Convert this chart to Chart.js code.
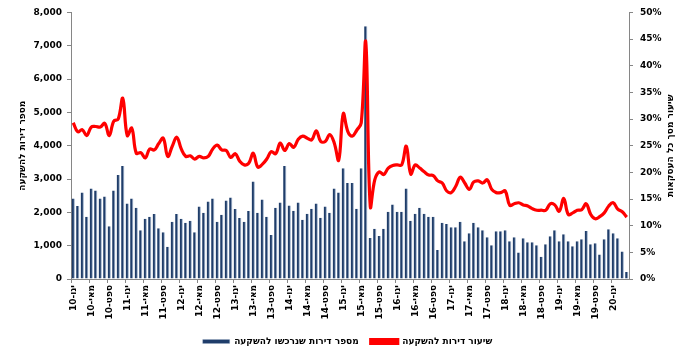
<!DOCTYPE html>
<html>
<head>
<meta charset="utf-8">
<script src="https://cdn.jsdelivr.net/npm/chart.js@4.4.1/dist/chart.umd.min.js"></script>
<style>
  html, body { margin: 0; padding: 0; background: #fff; }
</style>
</head>
<body>
<canvas id="chart" width="695" height="360"></canvas>
<script>
// month names and years for the category axis (Jan 2010 - Apr 2020)
const monthNames = ["ינו", "פבר", "מרץ", "אפר", "מאי", "יונ", "יול", "אוג", "ספט", "אוק", "נוב", "דצמ"];
const firstYear = 10;
const monthCount = 124;

// number of apartments bought for investment (left axis)
const investCount = [
  2414, 2192, 2596, 1869, 2717, 2656, 2414, 2475, 1586, 2656, 3121, 3394,
  2262, 2414, 2141, 1464, 1808, 1869, 1949, 1525, 1404, 970, 1717, 1949,
  1808, 1687, 1747, 1404, 2172, 1990, 2323, 2414, 1717, 1929, 2353, 2444,
  2101, 1828, 1717, 2040, 2929, 1990, 2384, 1869, 1323, 2141, 2293, 3394,
  2202, 2050, 2293, 1778, 1959, 2111, 2262, 1838, 2172, 1990, 2717, 2596,
  3323, 2879, 2879, 2111, 3323, 7585, 1232, 1505, 1293, 1505, 2020, 2232,
  2020, 2020, 2717, 1747, 1959, 2141, 1959, 1869, 1869, 869, 1687, 1650,
  1555, 1555, 1717, 1131, 1374, 1687, 1555, 1464, 1252, 1010, 1434, 1434,
  1464, 1131, 1252, 798, 1222, 1101, 1101, 1010, 667, 1040, 1283, 1464,
  1131, 1343, 1131, 980, 1131, 1192, 1444, 1040, 1071, 737, 1192, 1495,
  1374, 1222, 828, 212
];

// share of investment apartments, % (right axis)
const investShare = [
  29.3, 27.6, 28.0, 26.9, 28.5, 28.6, 28.5, 29.2, 26.9, 29.6, 30.0, 33.9,
  26.9, 28.3, 23.6, 23.7, 22.7, 24.4, 24.2, 25.4, 26.4, 23.0, 24.9, 26.6,
  24.4, 23.0, 23.1, 22.5, 23.0, 22.7, 23.0, 24.4, 25.1, 24.2, 24.1, 22.8,
  23.5, 22.1, 21.4, 21.7, 23.6, 21.0, 21.5, 22.5, 23.9, 23.5, 25.5, 24.1,
  25.4, 24.7, 26.2, 26.8, 26.4, 26.1, 27.8, 25.8, 25.8, 27.1, 25.5, 22.3,
  31.0, 27.7, 26.8, 27.9, 29.3, 44.4, 13.6, 18.6, 20.1, 19.6, 20.8, 21.3,
  21.4, 21.4, 24.9, 19.7, 21.4, 20.8, 20.1, 19.5, 19.4, 18.4, 18.0, 16.5,
  16.2, 17.4, 19.1, 18.0, 16.8, 18.2, 18.4, 18.0, 18.6, 16.8, 16.2, 16.2,
  16.5, 13.8, 14.1, 14.3, 13.9, 13.7, 13.2, 12.9, 12.9, 12.9, 14.1, 13.9,
  12.7, 15.1, 12.1, 12.4, 12.9, 13.0, 14.1, 12.1, 11.3, 11.7, 12.4, 13.7,
  14.3, 13.1, 12.6, 11.6
];

const labels = [];
for (let i = 0; i < monthCount; i++) {
  labels.push(monthNames[i % 12] + "-" + (firstYear + Math.floor(i / 12)));
}

const axisGray = "#868686";
const boldFont = { family: "DejaVu Sans", size: 9, weight: "bold" };

// right axis title, rotated like the left one
const rightTitle = {
  id: "rightTitle",
  afterDraw(chart) {
    const c = chart.ctx;
    const area = chart.chartArea;
    c.save();
    c.translate(671, (area.top + area.bottom) / 2);
    c.rotate(-Math.PI / 2);
    c.font = "bold 9px 'DejaVu Sans'";
    c.fillStyle = "#000";
    c.textAlign = "center";
    c.textBaseline = "middle";
    c.fillText("שיעור מסך כל העסקאות", 0, 0);
    c.restore();
  }
};

new Chart(document.getElementById("chart"), {
  data: {
    labels: labels,
    datasets: [
      {
        type: "bar",
        label: "מספר דירות שנרכשו להשקעה",
        data: investCount,
        yAxisID: "y",
        backgroundColor: "#1f3d6a",
        borderColor: "#9db1cc",
        borderWidth: { top: 0, right: 1, bottom: 0, left: 0 },
        borderSkipped: false,
        barPercentage: 0.72,
        categoryPercentage: 1.0,
        order: 2
      },
      {
        type: "line",
        label: "שיעור דירות להשקעה",
        data: investShare,
        yAxisID: "y1",
        borderColor: "#ff0000",
        backgroundColor: "#ff0000",
        borderWidth: 3.2,
        pointRadius: 0,
        tension: 0.4,
        order: 1
      }
    ]
  },
  options: {
    responsive: false,
    devicePixelRatio: 1,
    animation: false,
    layout: { padding: { top: 12, left: 0, right: 0, bottom: 4 } },
    plugins: {
      tooltip: { enabled: false },
      legend: {
        position: "bottom",
        reverse: true,
        labels: {
          font: boldFont,
          color: "#000",
          boxWidth: 27,
          boxHeight: 4,
          padding: 12
        }
      }
    },
    scales: {
      x: {
        grid: {
          drawOnChartArea: false,
          tickLength: 4,
          color: (ctx) => (ctx.index % 4 === 0 ? axisGray : "rgba(0,0,0,0)")
        },
        border: { color: axisGray },
        ticks: {
          autoSkip: false,
          maxRotation: 90,
          minRotation: 90,
          padding: 2,
          font: boldFont,
          color: "#000",
          callback: (v, i) => (i % 4 === 0 ? labels[i] : "")
        },
        afterFit: (s) => { s.height = 46; }
      },
      y: {
        position: "left",
        min: 0,
        max: 8000,
        grid: { drawOnChartArea: false, tickLength: 4, color: axisGray },
        border: { color: axisGray },
        ticks: { stepSize: 1000, padding: 5, font: boldFont, color: "#000" },
        title: {
          display: true,
          text: "מספר דירות להשקעה",
          font: boldFont,
          color: "#000",
          padding: { top: 17, bottom: 0 }
        },
        afterFit: (s) => { s.width = 71; }
      },
      y1: {
        position: "right",
        min: 0,
        max: 50,
        grid: { drawOnChartArea: false, tickLength: 4, color: axisGray },
        border: { color: axisGray },
        ticks: {
          stepSize: 5,
          padding: 7,
          font: boldFont,
          color: "#000",
          callback: (v) => v + "%"
        },
        afterFit: (s) => { s.width = 66; }
      }
    }
  },
  plugins: [rightTitle]
});
</script>
</body>
</html>
